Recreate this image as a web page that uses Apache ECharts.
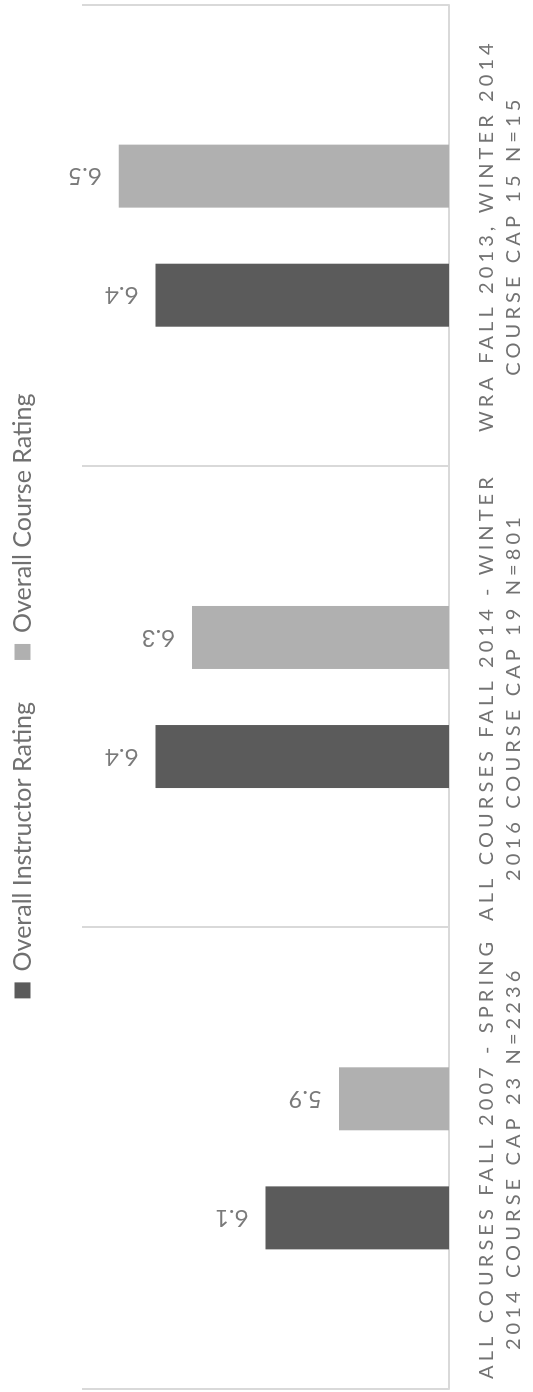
<!DOCTYPE html>
<html>
<head>
<meta charset="utf-8">
<script src="https://cdn.jsdelivr.net/npm/echarts@6/dist/echarts.min.js"></script>
<style>
  html, body { margin: 0; padding: 0; width: 533px; height: 1392px; overflow: hidden; background: #fff; }
  #chart {
    position: absolute; left: 0; top: 0;
    width: 1392px; height: 533px;
    transform-origin: 0 0;
    transform: translate(0, 1392px) rotate(-90deg);
  }
</style>
</head>
<body>
<div id="chart"></div>
<script>
// ---- data ----
const categories = [
  "ALL COURSES FALL 2007 - SPRING\n2014 COURSE CAP 23 N=2236",
  "ALL COURSES FALL 2014 - WINTER\n2016 COURSE CAP 19 N=801",
  "WRA FALL 2013, WINTER 2014\nCOURSE CAP 15 N=15"
];
const seriesNames = ["Overall Instructor Rating", "Overall Course Rating"];
const instructorRating = [6.1, 6.4, 6.4];
const courseRating = [5.9, 6.3, 6.5];

// category labels are letter-spaced in the reference (identified by their 20px font)
const origFill = CanvasRenderingContext2D.prototype.fillText;
CanvasRenderingContext2D.prototype.fillText = function (t, x, y, m) {
  if ('letterSpacing' in this) {
    this.letterSpacing = /(^|\s)20px(\s|$)/.test(this.font) ? '4.1px' : '0px';
  }
  return m === undefined ? origFill.call(this, t, x, y) : origFill.call(this, t, x, y, m);
};

const chart = echarts.init(document.getElementById('chart'), null, { renderer: 'canvas' });
const labelStyle = {
  show: true,
  position: 'top',
  rotate: 90,
  align: 'left',
  verticalAlign: 'middle',
  distance: 17,
  color: '#7a7a7a',
  fontFamily: 'Lato',
  fontSize: 24
};
chart.setOption({
  animation: false,
  backgroundColor: '#ffffff',
  legend: {
    data: seriesNames,
    left: 'center',
    top: 10,
    padding: 0,
    itemGap: 42,
    itemWidth: 16,
    itemHeight: 16,
    icon: 'rect',
    textStyle: { color: '#707070', fontFamily: 'Lato', fontSize: 25, padding: [0, 0, 0, 6] }
  },
  grid: { left: 3, right: 5, top: 82, bottom: 84, containLabel: false },
  xAxis: {
    type: 'category',
    data: categories,
    boundaryGap: true,
    axisLine: { show: true, lineStyle: { color: '#d9d9d9', width: 2 } },
    axisTick: { show: false },
    splitLine: { show: true, interval: 0, lineStyle: { color: '#d9d9d9', width: 2 } },
    axisLabel: {
      interval: 0,
      margin: 24,
      color: '#727272',
      fontFamily: 'Lato',
      fontSize: 20,
      lineHeight: 27,
      align: 'center'
    }
  },
  yAxis: {
    type: 'value',
    min: 5.6,
    max: 6.6,
    show: false,
    splitLine: { show: false }
  },
  series: [
    {
      name: seriesNames[0],
      type: 'bar',
      data: instructorRating,
      barWidth: 63,
      barGap: '89%',
      itemStyle: { color: '#5b5b5b' },
      label: labelStyle
    },
    {
      name: seriesNames[1],
      type: 'bar',
      data: courseRating,
      barWidth: 63,
      barGap: '89%',
      itemStyle: { color: '#b0b0b0' },
      label: labelStyle
    }
  ]
});
</script>
</body>
</html>
